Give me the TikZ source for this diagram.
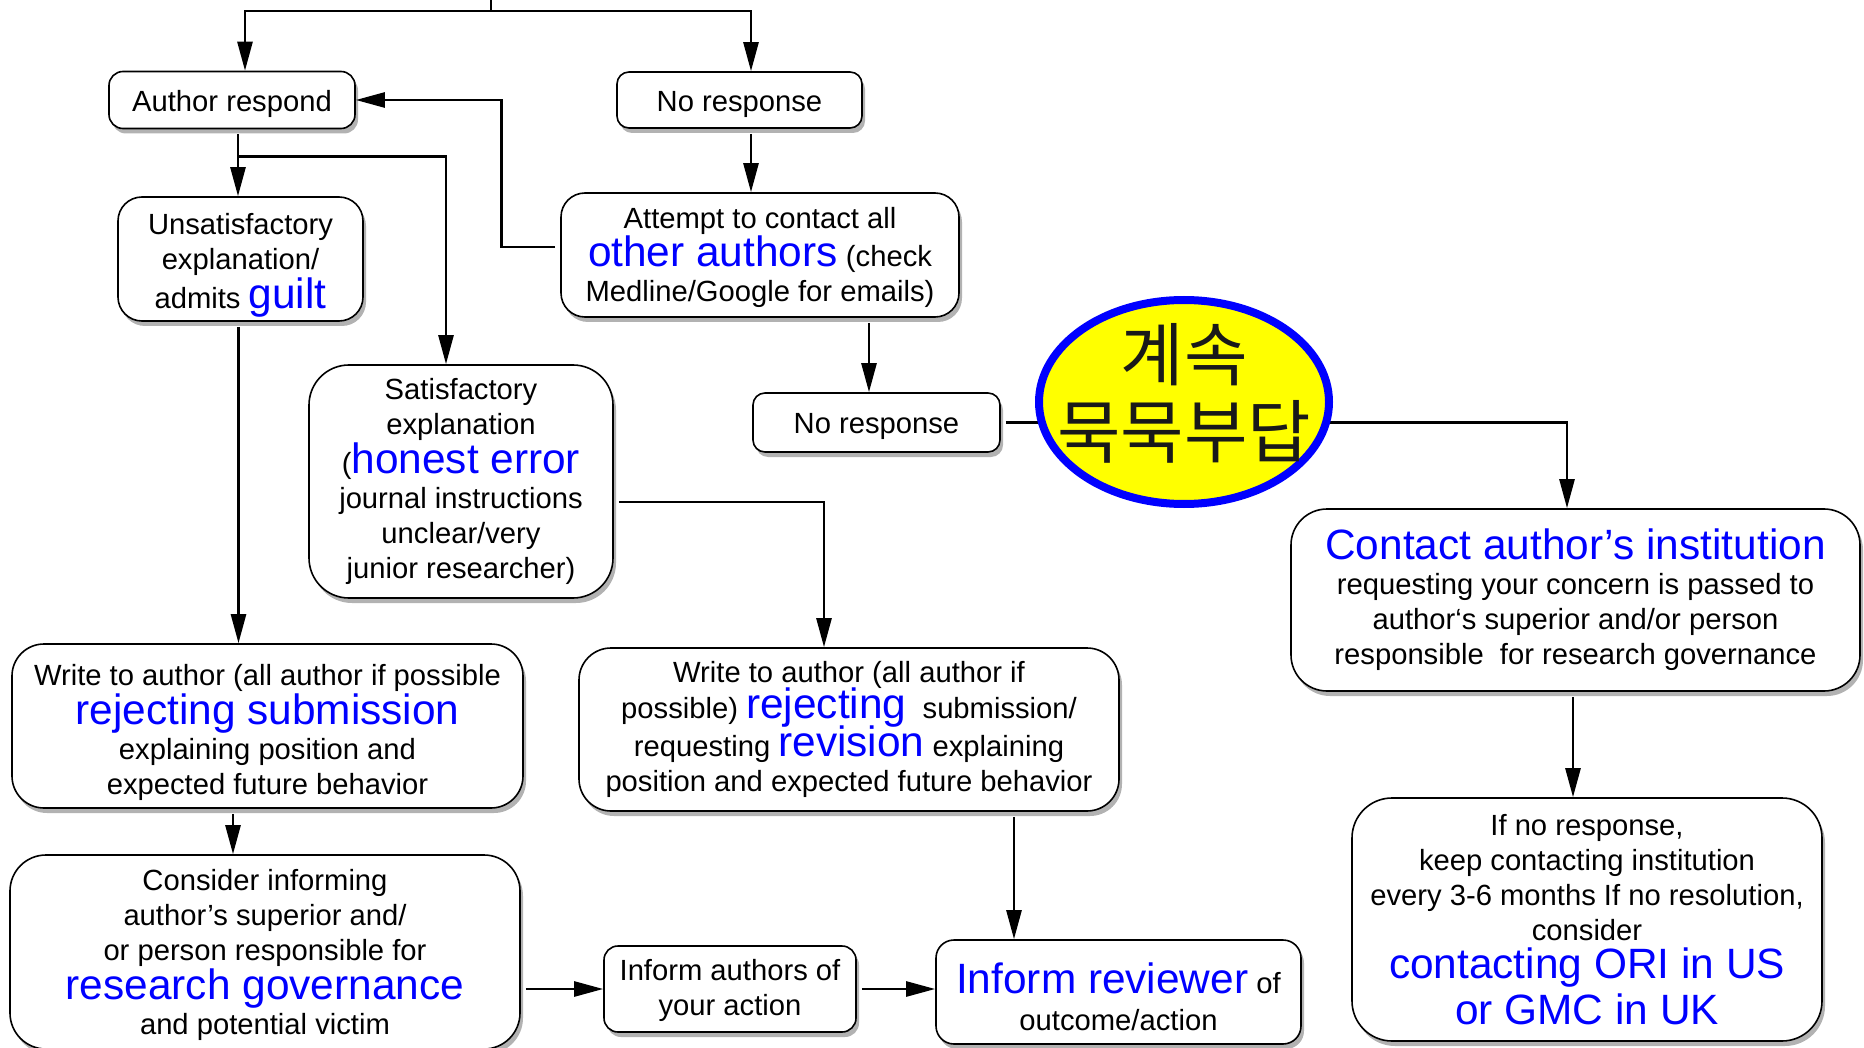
\documentclass[tikz,border=0pt]{standalone}
\usepackage{fontspec}
\setmainfont{Liberation Sans}
\newfontfamily\kofont{Noto Sans CJK KR}
\usepackage{xcolor}
\usetikzlibrary{positioning,arrows.meta,shapes.geometric,shadows}
\definecolor{kwblue}{RGB}{0,0,255}
\definecolor{bubblefill}{RGB}{255,255,0}
\newcommand{\kw}[1]{{\color{kwblue}\fontsize{21.2}{23}\selectfont #1}}
\newcommand{\topgap}[1]{\rule{0pt}{#1}}

\begin{document}
\begin{tikzpicture}[
		x=0.5pt,y=-0.5pt,
		font=\fontsize{14.6}{17.5}\selectfont,
		box/.style={draw,line width=0.8pt,fill=white,align=center,inner sep=0pt,
			drop shadow={shadow xshift=1.5pt,shadow yshift=-2.5pt,opacity=0.3,fill=black}},
		arr/.style={-{Triangle[length=14.5pt,width=7.5pt]},line width=1.3pt,shorten <=2.5pt},
		bubble/.style={ellipse,draw=kwblue,line width=4pt,fill=bubblefill,inner sep=0pt}
		]
		\useasboundingbox (0,0) rectangle (1864,1048);

		\node[box,rounded corners=7pt,minimum width=123pt,minimum height=28.5pt] (ar) at (232,100) {\topgap{14.2pt}Author respond};
		\node[box,rounded corners=6pt,minimum width=122.5pt,minimum height=28pt] (nr1) at (739.5,100) {\topgap{14.2pt}No response};
		\node[box,rounded corners=12pt,minimum width=122.5pt,minimum height=62pt] (unsat) at (240.5,259) {\topgap{16.6pt}Unsatisfactory\\explanation/\\admits \kw{guilt}};
		\node[box,rounded corners=12pt,minimum width=199pt,minimum height=62pt] (att) at (760,255) {\topgap{13pt}Attempt to contact all\\\kw{other authors} (check\\Medline/Google for emails)};
		\node[box,rounded corners=20pt,minimum width=152pt,minimum height=116.5pt] (sat) at (461,481.5) {Satisfactory\\explanation\\(\kw{honest error}\\journal instructions\\unclear/very\\junior researcher)};
		\node[box,rounded corners=6pt,minimum width=123.5pt,minimum height=29.5pt] (nr2) at (876.5,422.5) {\topgap{14.2pt}No response};
		\node[box,rounded corners=18pt,minimum width=284.5pt,minimum height=91pt] (inst) at (1575.5,600) {\kw{Contact author’s institution}\\requesting your concern is passed to\\author‘s superior and/or person\\responsible\ \ for research governance};
		\node[box,rounded corners=20pt,minimum width=235pt,minimum height=121.5pt] (ori) at (1587,919.5) {If no response,\\keep contacting institution\\every 3-6 months If no resolution,\\consider\\[1.5pt]\kw{contacting ORI in US}\\[2.5pt]\kw{or GMC in UK}};
		\node[box,rounded corners=16pt,minimum width=255.5pt,minimum height=82pt] (w1) at (267.5,726) {\topgap{16.8pt}Write to author (all author if possible\\\kw{rejecting submission}\\explaining position and\\expected future behavior};
		\node[box,rounded corners=16pt,minimum width=270pt,minimum height=81.5pt] (w2) at (849,729.5) {Write to author (all author if\\[-1.5pt]possible) \kw{rejecting}\ \ submission/\\[-2pt]requesting \kw{revision} explaining\\position and expected future behavior};
		\node[box,rounded corners=18pt,minimum width=255pt,minimum height=97pt] (cons) at (265,952) {\topgap{13.4pt}Consider informing\\author’s superior and/\\or person responsible for\\\kw{research governance}\\and potential victim};
		\node[box,rounded corners=7pt,minimum width=126pt,minimum height=43pt] (ia) at (730,989) {\topgap{12.4pt}Inform authors of\\your action};
		\node[box,rounded corners=9pt,minimum width=182.5pt,minimum height=52pt] (rev) at (1118.5,992) {\topgap{20pt}\kw{Inform reviewer} of\\[1pt]outcome/action};

		\coordinate (top) at (491,-4);
		\coordinate (split) at (491,11);
		\draw[line width=1.3pt] (top) -- (split);
		\draw[arr,shorten <=0pt] (split) -| ([xshift=6.5pt]ar.north);
		\draw[arr,shorten <=0pt] (split) -| ([xshift=5.75pt]nr1.north);
		\draw[arr] ([xshift=3pt]ar.south) -- ([xshift=3pt]ar.south |- unsat.north);
		\draw[arr,shorten <=0pt] ([xshift=3pt,yshift=-13.5pt]ar.south) -| ([xshift=-7.5pt]sat.north);
		\draw[arr] ([xshift=5.75pt]nr1.south) -- ([xshift=5.75pt]nr1.south |- att.north);
		\draw[arr] ([yshift=4pt]att.west) -- ++(-59,0) |- (ar.east);
		\draw[arr] ([xshift=-1pt]unsat.south) -- ([xshift=-1pt]unsat.south |- w1.north);
		\draw[arr] ([yshift=-10.25pt]sat.east) -| ([xshift=-12.5pt]w2.north);
		\draw[arr] ([xshift=54.5pt]att.south) -- ([xshift=54.5pt]att.south |- nr2.north);
		\draw[arr] (nr2.east) -| ([xshift=-4.25pt]inst.north);
		\draw[arr] ([xshift=-1.25pt]inst.south) -- ([xshift=-1.25pt]inst.south |- ori.north);
		\draw[arr] ([xshift=-17.25pt]w1.south) -- ([xshift=-17.25pt]w1.south |- cons.north);
		\draw[arr] ([xshift=82.5pt]w2.south) -- ([xshift=82.5pt]w2.south |- rev.north);
		\draw[arr] (cons.east |- ia.west) -- (ia.west);
		\draw[arr] (ia.east) -- (ia.east -| rev.west);

		\node[bubble,minimum width=145pt,minimum height=102pt] (stall) at (1184,402) {};
		\node[align=center,font=\kofont\fontsize{34.5}{38.5}\selectfont,text=black!90] (stalltxt) at ([yshift=4.5pt]stall.center) {계속\\묵묵부답};
	\end{tikzpicture}
\end{document}
